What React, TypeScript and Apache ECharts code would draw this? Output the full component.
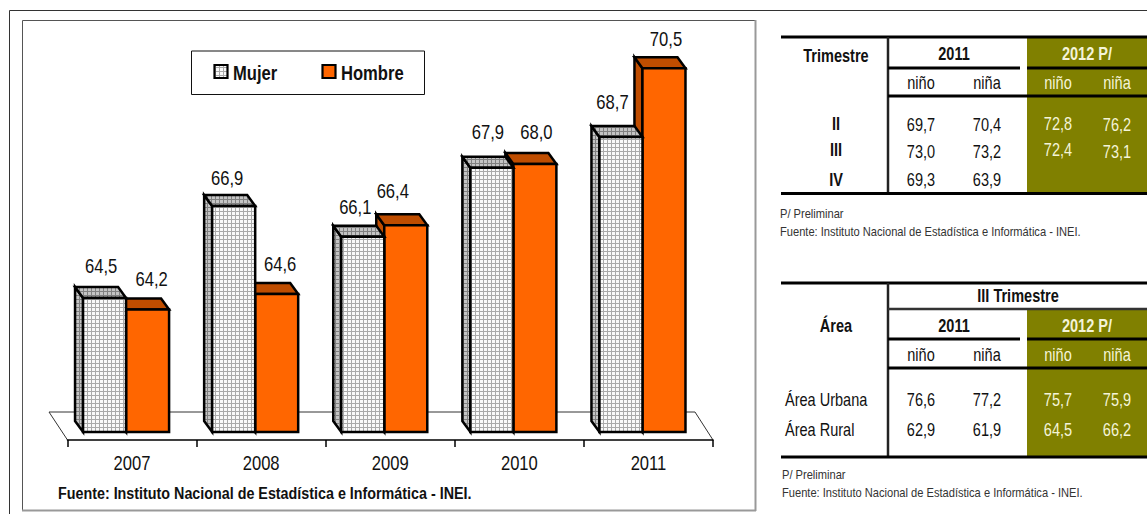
import React, { useEffect, useRef } from "react";
import * as echarts from "echarts";

const years = ["2007", "2008", "2009", "2010", "2011"];
const mujer = [64.5, 66.9, 66.1, 67.9, 68.7];
const hombre = [64.2, 64.6, 66.4, 68.0, 70.5];
const legendNames = ["Mujer", "Hombre"];
const mujerLabelOffset = [[-3.5, -32], [-6.5, -28], [-7.5, -30], [-4, -36], [-8.5, -35]];
const hombreLabelOffset = [[4, -31], [3.5, -30], [-13, -34], [1.5, -32], [2, -29]];

const quarters = ["II", "III", "IV"];
const q2011 = [["69,7", "70,4"], ["73,0", "73,2"], ["69,3", "63,9"]];
const q2012 = [["72,8", "76,2"], ["72,4", "73,1"]];
const areas = ["Área Urbana", "Área Rural"];
const a2011 = [["76,6", "77,2"], ["62,9", "61,9"]];
const a2012 = [["75,7", "75,9"], ["64,5", "66,2"]];
const subHeads = ["niño", "niña"];
const SOURCE = "Fuente: Instituto Nacional de Estadística e Informática - INEI.";
const PRELIM = "P/ Preliminar";

const FONT = "'Liberation Sans', Arial, sans-serif";
const NARROW = 0.83;
const ORANGE = "#ff6600";
const ORANGE_DARK = "#bf4d00";
const OLIVE = "#808000";
const OLIVE_TEXT = "#f4f4d8";

function makePattern(bg: string, line: string) {
  const c = document.createElement("canvas");
  c.width = 4;
  c.height = 4;
  const g = c.getContext("2d")!;
  g.fillStyle = bg;
  g.fillRect(0, 0, 4, 4);
  g.fillStyle = line;
  g.fillRect(3, 0, 1, 4);
  g.fillRect(0, 3, 4, 1);
  return { image: c, repeat: "repeat" } as any;
}

function bar3d(dxFromCentre: number, front: any, side: any, top: any, offsets: number[][]) {
  return (params: any, api: any) => {
    const i = api.value(0);
    const v = api.value(1);
    const tp = api.coord([i, v]);
    const bt = api.coord([i, 61]);
    const band = api.size([1, 0])[0];
    const w = band / 3;
    const x0 = tp[0] + dxFromCentre * band;
    const x1 = x0 + w;
    const dx = -8;
    const dy = -11;
    const stroke = { stroke: "#000", lineWidth: 2.5, lineJoin: "miter" };
    const label = v.toFixed(1).replace(".", ",");
    return {
      type: "group",
      children: [
        {
          type: "polygon",
          shape: { points: [[x0, tp[1]], [x0 + dx, tp[1] + dy], [x0 + dx, bt[1] + dy], [x0, bt[1]]] },
          style: { fill: side, ...stroke },
        },
        {
          type: "polygon",
          shape: { points: [[x0, tp[1]], [x0 + dx, tp[1] + dy], [x1 + dx, tp[1] + dy], [x1, tp[1]]] },
          style: { fill: top, ...stroke },
        },
        {
          type: "rect",
          shape: { x: x0, y: tp[1], width: w, height: bt[1] - tp[1] },
          style: { fill: front, ...stroke },
        },
        {
          type: "text",
          x: x0 + w / 2 + offsets[i][0],
          y: tp[1] + offsets[i][1],
          scaleX: NARROW,
          style: {
            text: label,
            font: `20px ${FONT}`,
            fill: "#111",
            align: "center",
            verticalAlign: "middle",
          },
        },
      ],
    };
  };
}

function yearLabels(params: any, api: any) {
  const i = api.value(0);
  const p = api.coord([i, 61]);
  return {
    type: "text",
    x: p[0],
    y: p[1] + 31,
    scaleX: NARROW,
    style: {
      text: years[i],
      font: `20px ${FONT}`,
      fill: "#111",
      align: "center",
      verticalAlign: "middle",
    },
  };
}

function txt(text: string, x: number, y: number, size: number, opts: any = {}) {
  return {
    type: "text",
    x,
    y: y - 0.8,
    scaleX: NARROW,
    silent: true,
    style: {
      text,
      font: `${opts.bold ? "bold " : ""}${size}px ${FONT}`,
      fill: opts.fill || "#111",
      align: opts.align || "center",
      verticalAlign: "middle",
    },
  };
}

function box(x: number, y: number, w: number, h: number, fill: string) {
  return { type: "rect", silent: true, shape: { x, y, width: w, height: h }, style: { fill } };
}

function hline(x0: number, x1: number, y: number, lw = 3, color = "#000") {
  return {
    type: "line",
    silent: true,
    shape: { x1: x0, y1: y, x2: x1, y2: y },
    style: { stroke: color, lineWidth: lw },
  };
}

function vline(x: number, y0: number, y1: number, lw = 2.5, color = "#222") {
  return {
    type: "line",
    silent: true,
    shape: { x1: x, y1: y0, x2: x, y2: y1 },
    style: { stroke: color, lineWidth: lw },
  };
}

const COLS = [921, 987, 1058, 1117];
const T = 17.5;
const NOTE = 13.4;

function buildTables() {
  const els: any[] = [];
  // table 1
  els.push(box(1027, 38, 120, 155, OLIVE));
  els.push(hline(781, 1147, 37));
  els.push(vline(888, 37, 194));
  els.push(hline(888, 1020, 68));
  els.push(hline(1027, 1147, 68));
  els.push(hline(888, 1147, 96));
  els.push(hline(781, 1147, 193.5));
  els.push(txt("Trimestre", 836, 56, T, { bold: true }));
  els.push(txt("2011", 954, 54, T, { bold: true }));
  els.push(txt("2012 P/", 1087, 54, T, { bold: true, fill: OLIVE_TEXT }));
  COLS.forEach((x, j) =>
    els.push(txt(subHeads[j % 2], x, 83, T, j > 1 ? { fill: OLIVE_TEXT } : {}))
  );
  const ys1 = [125, 152, 180];
  const yr1 = [124, 150, 180];
  quarters.forEach((q, i) => {
    els.push(txt(q, 836, yr1[i], T, { bold: true }));
    q2011[i].forEach((v, j) => els.push(txt(v, COLS[j], ys1[i], T)));
  });
  q2012.forEach((row, i) => {
    els.push(txt(row[0], COLS[2], yr1[i], T, { fill: OLIVE_TEXT }));
    els.push(txt(row[1], COLS[3], ys1[i], T, { fill: OLIVE_TEXT }));
  });
  els.push(txt(PRELIM, 780, 214, NOTE, { align: "left", fill: "#333" }));
  els.push(txt(SOURCE, 780, 232, NOTE, { align: "left", fill: "#333" }));

  // table 2
  els.push(box(1027, 310, 120, 147, OLIVE));
  els.push(hline(781, 1147, 283));
  els.push(vline(888, 283, 458));
  els.push(hline(888, 1147, 309, 2.5, "#333"));
  els.push(hline(888, 1020, 339));
  els.push(hline(1027, 1147, 339));
  els.push(hline(888, 1147, 368));
  els.push(hline(781, 1147, 457));
  els.push(txt("III Trimestre", 1018, 296, T, { bold: true }));
  els.push(txt("Área", 836, 326, T, { bold: true }));
  els.push(txt("2011", 954, 326, T, { bold: true }));
  els.push(txt("2012 P/", 1087, 326, T, { bold: true, fill: OLIVE_TEXT }));
  COLS.forEach((x, j) =>
    els.push(txt(subHeads[j % 2], x, 355, T, j > 1 ? { fill: OLIVE_TEXT } : {}))
  );
  const ys2 = [400, 430];
  areas.forEach((a, i) => {
    els.push(txt(a, 785, ys2[i], T, { align: "left" }));
    a2011[i].forEach((v, j) => els.push(txt(v, COLS[j], ys2[i], T)));
    a2012[i].forEach((v, j) => els.push(txt(v, COLS[j + 2], ys2[i], T, { fill: OLIVE_TEXT })));
  });
  els.push(txt(PRELIM, 782, 475, NOTE, { align: "left", fill: "#333" }));
  els.push(txt(SOURCE, 782, 493, NOTE, { align: "left", fill: "#333" }));
  return els;
}

export default function App() {
  const ref = useRef<HTMLDivElement>(null);
  useEffect(() => {
    const chart = echarts.init(ref.current!, undefined, { renderer: "svg" });
    const patFront = makePattern("#fafafa", "#aaaaaa");
    const patDark = makePattern("#c4c4c4", "#808080");
    const swatch = (x: number, fill: any) => ({
      type: "rect",
      shape: { x, y: 65, width: 13, height: 13 },
      style: { fill, stroke: "#000", lineWidth: 2.2 },
    });
    chart.setOption({
      animation: false,
      backgroundColor: "#fff",
      grid: { left: 67.5, width: 645.5, top: 10.7, height: 421.3, containLabel: false },
      xAxis: {
        type: "category",
        data: years,
        offset: 8,
        boundaryGap: true,
        axisLine: { show: true, onZero: false, lineStyle: { color: "#000", width: 1.5 } },
        axisTick: { show: true, inside: false, length: 7, alignWithLabel: false, interval: 0, lineStyle: { color: "#000", width: 1.5 } },
        axisLabel: { show: false },
      },
      yAxis: { type: "value", min: 61, max: 72, show: false, splitLine: { show: false } },
      series: [
        {
          type: "custom",
          name: legendNames[0],
          z: 4,
          clip: false,
          data: mujer.map((v, i) => [i, v]),
          renderItem: bar3d(-49 / 129.1, patFront, patDark, patDark, mujerLabelOffset),
        },
        {
          type: "custom",
          name: legendNames[1],
          z: 3,
          clip: false,
          data: hombre.map((v, i) => [i, v]),
          renderItem: bar3d(-6 / 129.1, ORANGE, ORANGE_DARK, ORANGE_DARK, hombreLabelOffset),
        },
        {
          type: "custom",
          name: "Años",
          z: 5,
          clip: false,
          data: years.map((_, i) => [i, 61]),
          renderItem: yearLabels,
        },
      ],
      graphic: {
        elements: [
          {
            type: "group",
            z: -10,
            silent: true,
            children: [
              { type: "line", shape: { x1: 9.5, y1: 10.5, x2: 1147, y2: 10.5 }, style: { stroke: "#333", lineWidth: 1 } },
              { type: "line", shape: { x1: 9.5, y1: 10.5, x2: 9.5, y2: 514 }, style: { stroke: "#333", lineWidth: 1 } },
              {
                type: "rect",
                shape: { x: 22.5, y: 20.5, width: 733, height: 490 },
                style: { fill: "#fff", stroke: "#555", lineWidth: 1 },
              },
              { type: "line", shape: { x1: 755.5, y1: 20, x2: 755.5, y2: 511 }, style: { stroke: "#999", lineWidth: 2 } },
              { type: "line", shape: { x1: 22, y1: 510.5, x2: 756, y2: 510.5 }, style: { stroke: "#999", lineWidth: 2 } },
              {
                type: "polyline",
                shape: { points: [[67.5, 440], [49, 412], [695, 412], [713, 440]] },
                style: { fill: "none", stroke: "#333", lineWidth: 1 },
              },
            ],
          },
          {
            type: "group",
            z: 10,
            silent: true,
            children: [
              {
                type: "rect",
                shape: { x: 191.5, y: 51, width: 233, height: 43.5 },
                style: { fill: "#fff", stroke: "#111", lineWidth: 1 },
              },
              swatch(214.5, patFront),
              txt(legendNames[0], 233, 73.8, 20, { bold: true, align: "left" }),
              swatch(322.5, ORANGE),
              txt(legendNames[1], 341, 73.8, 20, { bold: true, align: "left" }),
            ],
          },
          { type: "group", silent: true, children: [txt(SOURCE, 58, 494, 17.25, { bold: true, align: "left" })] },
          { type: "group", silent: true, children: buildTables() },
        ],
      },
    } as any);
    return () => chart.dispose();
  }, []);
  return <div ref={ref} style={{ position: "fixed", left: 0, top: 0, width: 1147, height: 514 }} />;
}
